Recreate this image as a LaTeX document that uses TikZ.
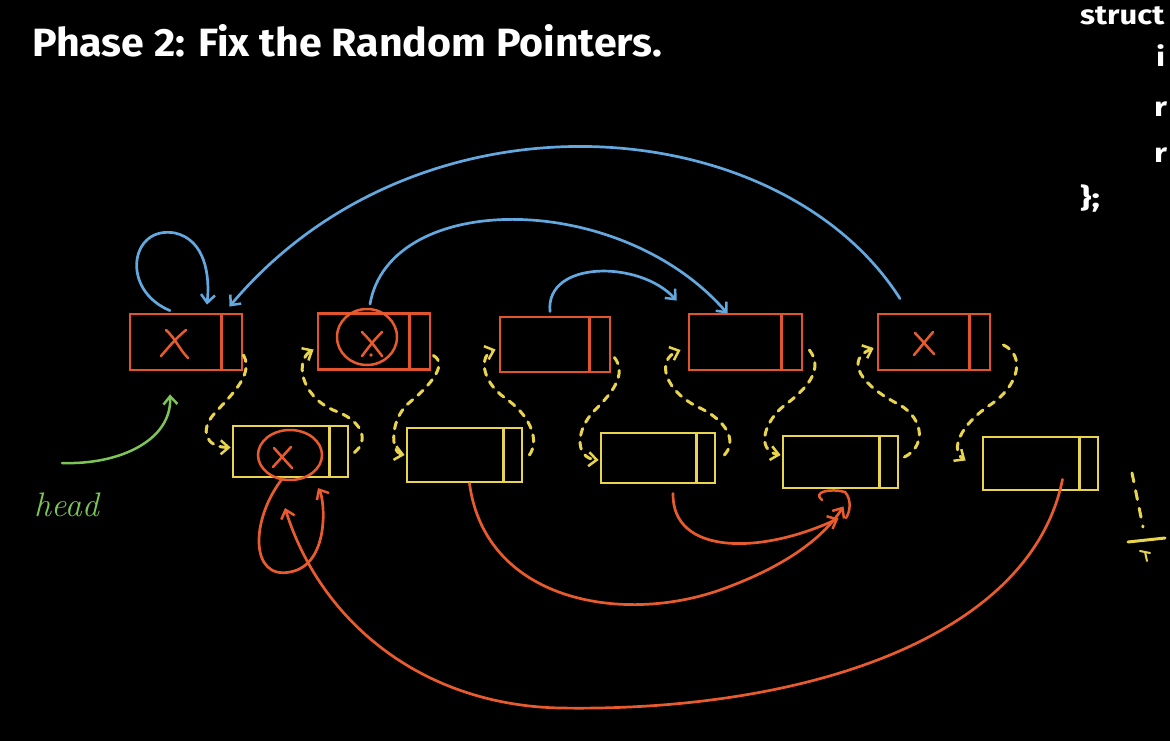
\documentclass[tikz,border=0pt]{standalone}
\usepackage{fontspec}
\usetikzlibrary{arrows.meta,calc}
\newfontfamily\titlefont{Fira Sans}
\definecolor{ored}{HTML}{E2542E}
\definecolor{yel}{HTML}{E8D44D}
\definecolor{blu}{HTML}{63A8DE}
\definecolor{grn}{HTML}{7DC655}
\definecolor{onew}{HTML}{E85B2E}
\tikzset{
  obox/.style={draw=ored, line width=2.8pt, minimum width=112pt, minimum height=56pt, inner sep=0pt},
  ybox/.style={draw=yel, line width=2.8pt, minimum width=115pt, minimum height=52pt, inner sep=0pt},
  odiv/.style={draw=ored, line width=2.8pt},
  ydiv/.style={draw=yel, line width=2.8pt},
  barb/.style={-{Straight Barb[length=8pt,width=14pt,line width=2.5pt]}},
  nextp/.style={draw=yel, line width=3pt, dash pattern=on 7pt off 7pt, line cap=round, barb},
  randp/.style={draw=blu, line width=2.7pt, line cap=round, barb},
  newrand/.style={draw=onew, line width=2.7pt, line cap=round, barb},
  xmark/.style={draw=onew, line width=2.5pt, line cap=round},
  codetxt/.style={anchor=base west, inner sep=0pt, text=white, font=\titlefont\bfseries\fontsize{27}{30}\selectfont}
}
\begin{document}
\begin{tikzpicture}[x=1pt,y=-1pt]
\useasboundingbox (0,0) rectangle (1170,741);
\fill[black] (0,0) rectangle (1170,741);
\clip (0,0) rectangle (1170,741);

% title and code
\node[anchor=base west, inner sep=0pt, text=white] (title) at (32,57)
  {\resizebox{630pt}{32pt}{\titlefont\bfseries Phase 2: Fix the Random Pointers.}};
\node[codetxt] (c1) at (1080,25) {\scalebox{1.15}[1]{struct}};
\node[codetxt] (c2) at (1156,67) {\scalebox{1.2}[1]{i}};
\node[codetxt] (c3) at (1154,117) {\scalebox{1.2}[1]{r}};
\node[codetxt] (c4) at (1154,163) {\scalebox{1.2}[1]{r}};
\node[codetxt] (c5) at (1080,207) {\scalebox{1.3}[1]{\};}};

% original list
\node[obox] (A) at (186,342) {};
\node[obox] (B) at (374,341.5) {};
\node[obox, minimum width=110pt, minimum height=55pt] (C) at (555,344.5) {};
\node[obox, minimum width=113pt] (D) at (745.5,342) {};
\node[obox] (E) at (934,342) {};
\foreach \n in {A,B,C,D,E}{
  \draw[odiv] ($(\n.north east)+(-22,0)$) -- ($(\n.south east)+(-22,0)$);
}
% copied list
\node[ybox, minimum height=51pt] (Y1) at (290.5,451.5) {};
\node[ybox, minimum height=54pt] (Y2) at (464.5,455) {};
\node[ybox, minimum width=114pt, minimum height=50pt] (Y3) at (658,458) {};
\node[ybox] (Y4) at (840.5,462) {};
\node[ybox, minimum height=53pt] (Y5) at (1040.5,463.5) {};
\foreach \n in {Y1,Y2,Y3,Y4,Y5}{
  \draw[ydiv] ($(\n.north east)+(-20,0)$) -- ($(\n.south east)+(-20,0)$);
}

% x marks
\draw[xmark] (166,330) .. controls (175,338) and (180,350) .. (188,358);
\draw[xmark] (186,330) .. controls (176,338) and (168,348) .. (161,356);
\draw[xmark] (362,332) .. controls (370,340) and (376,348) .. (382,356);
\draw[xmark] (382,332) .. controls (374,340) and (368,348) .. (362,356);
\fill[onew] (371,355) circle (1.8pt);
\draw[xmark] (367,337) ellipse [x radius=30pt, y radius=28pt];
\draw[xmark] (915,333) .. controls (922,340) and (928,348) .. (934,354);
\draw[xmark] (933,332) .. controls (926,340) and (920,348) .. (914,355);
\draw[xmark] (274,448) -- (292,468);
\draw[xmark] (291,447) -- (273,467);
\draw[xmark] (290,455) ellipse [x radius=32pt, y radius=25pt];

% next pointers (dashed yellow)
\draw[nextp] ($(A.east)+(0,13)$) .. controls (255,375) and (228,398) .. (214,414)
   .. controls (200,430) and (205,447) .. ($(Y1.west)+(-1,-4)$);
\draw[nextp] ($(Y1.east)+(5,1)$) .. controls (370,440) and (362,420) .. (333,410)
   .. controls (300,395) and (295,360) .. ($(B.west)+(-3,8)$);
\draw[nextp] ($(B.east)+(2,14)$) .. controls (450,365) and (425,390) .. (410,402)
   .. controls (390,418) and (390,452) .. ($(Y2.west)+(-1,0)$);
\draw[nextp] ($(Y2.east)+(6,0)$) .. controls (540,440) and (530,415) .. (505,398)
   .. controls (480,380) and (480,355) .. ($(C.west)+(-3,5)$);
\draw[nextp] ($(C.east)+(3,13)$) .. controls (628,375) and (610,395) .. (595,410)
   .. controls (575,430) and (575,458) .. ($(Y3.west)+(-1,2)$);
\draw[nextp] ($(Y3.east)+(8,-3)$) .. controls (738,440) and (725,420) .. (700,408)
   .. controls (665,392) and (655,360) .. ($(D.west)+(-7,8)$);
\draw[nextp] ($(D.east)+(6,8)$) .. controls (825,370) and (805,390) .. (785,405)
   .. controls (765,420) and (755,450) .. ($(Y4.west)+(-1,-7)$);
\draw[nextp] ($(Y4.east)+(5,-5)$) .. controls (925,447) and (925,420) .. (900,405)
   .. controls (860,385) and (845,360) .. ($(E.west)+(-3,6)$);
\draw[nextp] ($(E.east)+(12,3)$) .. controls (1025,355) and (1020,385) .. (990,405)
   .. controls (960,425) and (950,450) .. ($(Y5.west)+(-16,-3)$);

% null marker
\coordinate (nul) at (1143,527);
\draw[draw=yel, line width=3pt, dash pattern=on 9pt off 9pt, line cap=round] (1132,473) -- (nul);
\draw[draw=yel, line width=3pt, line cap=round] (1128,542) -- (1165,538);
\draw[draw=yel, line width=2pt, line cap=round] (1140,551) -- (1150,553) (1145,552) -- (1147,561);

% random pointers (blue)
\draw[randp] ($(A.north)+(-16,-2)$) .. controls (120,290) and (130,225) .. (175,233)
   .. controls (205,240) and (210,275) .. ($(A.north)+(21,-8)$);
\draw[randp] ($(E.north)+(-34,-14)$) .. controls (780,110) and (420,80) .. ($(A.north east)+(-14,-6)$);
\draw[randp] ($(B.north)+(-4,-8)$) .. controls (390,190) and (620,190) .. ($(D.north)+(-18,1)$);
\draw[randp] ($(C.north)+(-5,-4)$) .. controls (545,260) and (640,260) .. ($(D.north west)+(-11,-12)$);

% new random pointers (orange)
\draw[newrand] ($(Y1.south)+(-8,0)$) .. controls (250,520) and (250,580) .. (290,572)
   .. controls (330,565) and (325,500) .. (318,488);
\draw[newrand] ($(Y5.south)+(22,-12)$) .. controls (1030,640) and (800,712) .. (560,708)
   .. controls (420,705) and (320,620) .. (285,508);
\draw[newrand] ($(Y2.south)+(5,0)$) .. controls (485,600) and (620,625) .. (720,590)
   .. controls (790,565) and (825,535) .. ($(Y4.south)+(3,17)$);
\draw[newrand] ($(Y3.south)+(15,9)$) .. controls (672,555) and (760,555) .. ($(Y4.south)+(-2,29)$);
\draw[xmark] (822,500) .. controls (812,492) and (830,488) .. (845,492)
   .. controls (852,500) and (850,512) .. (846,518);

% head
\node[anchor=base west, inner sep=0pt, text=grn, font=\itshape\fontsize{34}{36}\selectfont] (head) at (34,516) {head};
\draw[draw=grn, line width=2.5pt, line cap=round, barb] (62,463) .. controls (120,465) and (172,440) .. ($(A.south)+(-16,23)$);
\end{tikzpicture}
\end{document}
